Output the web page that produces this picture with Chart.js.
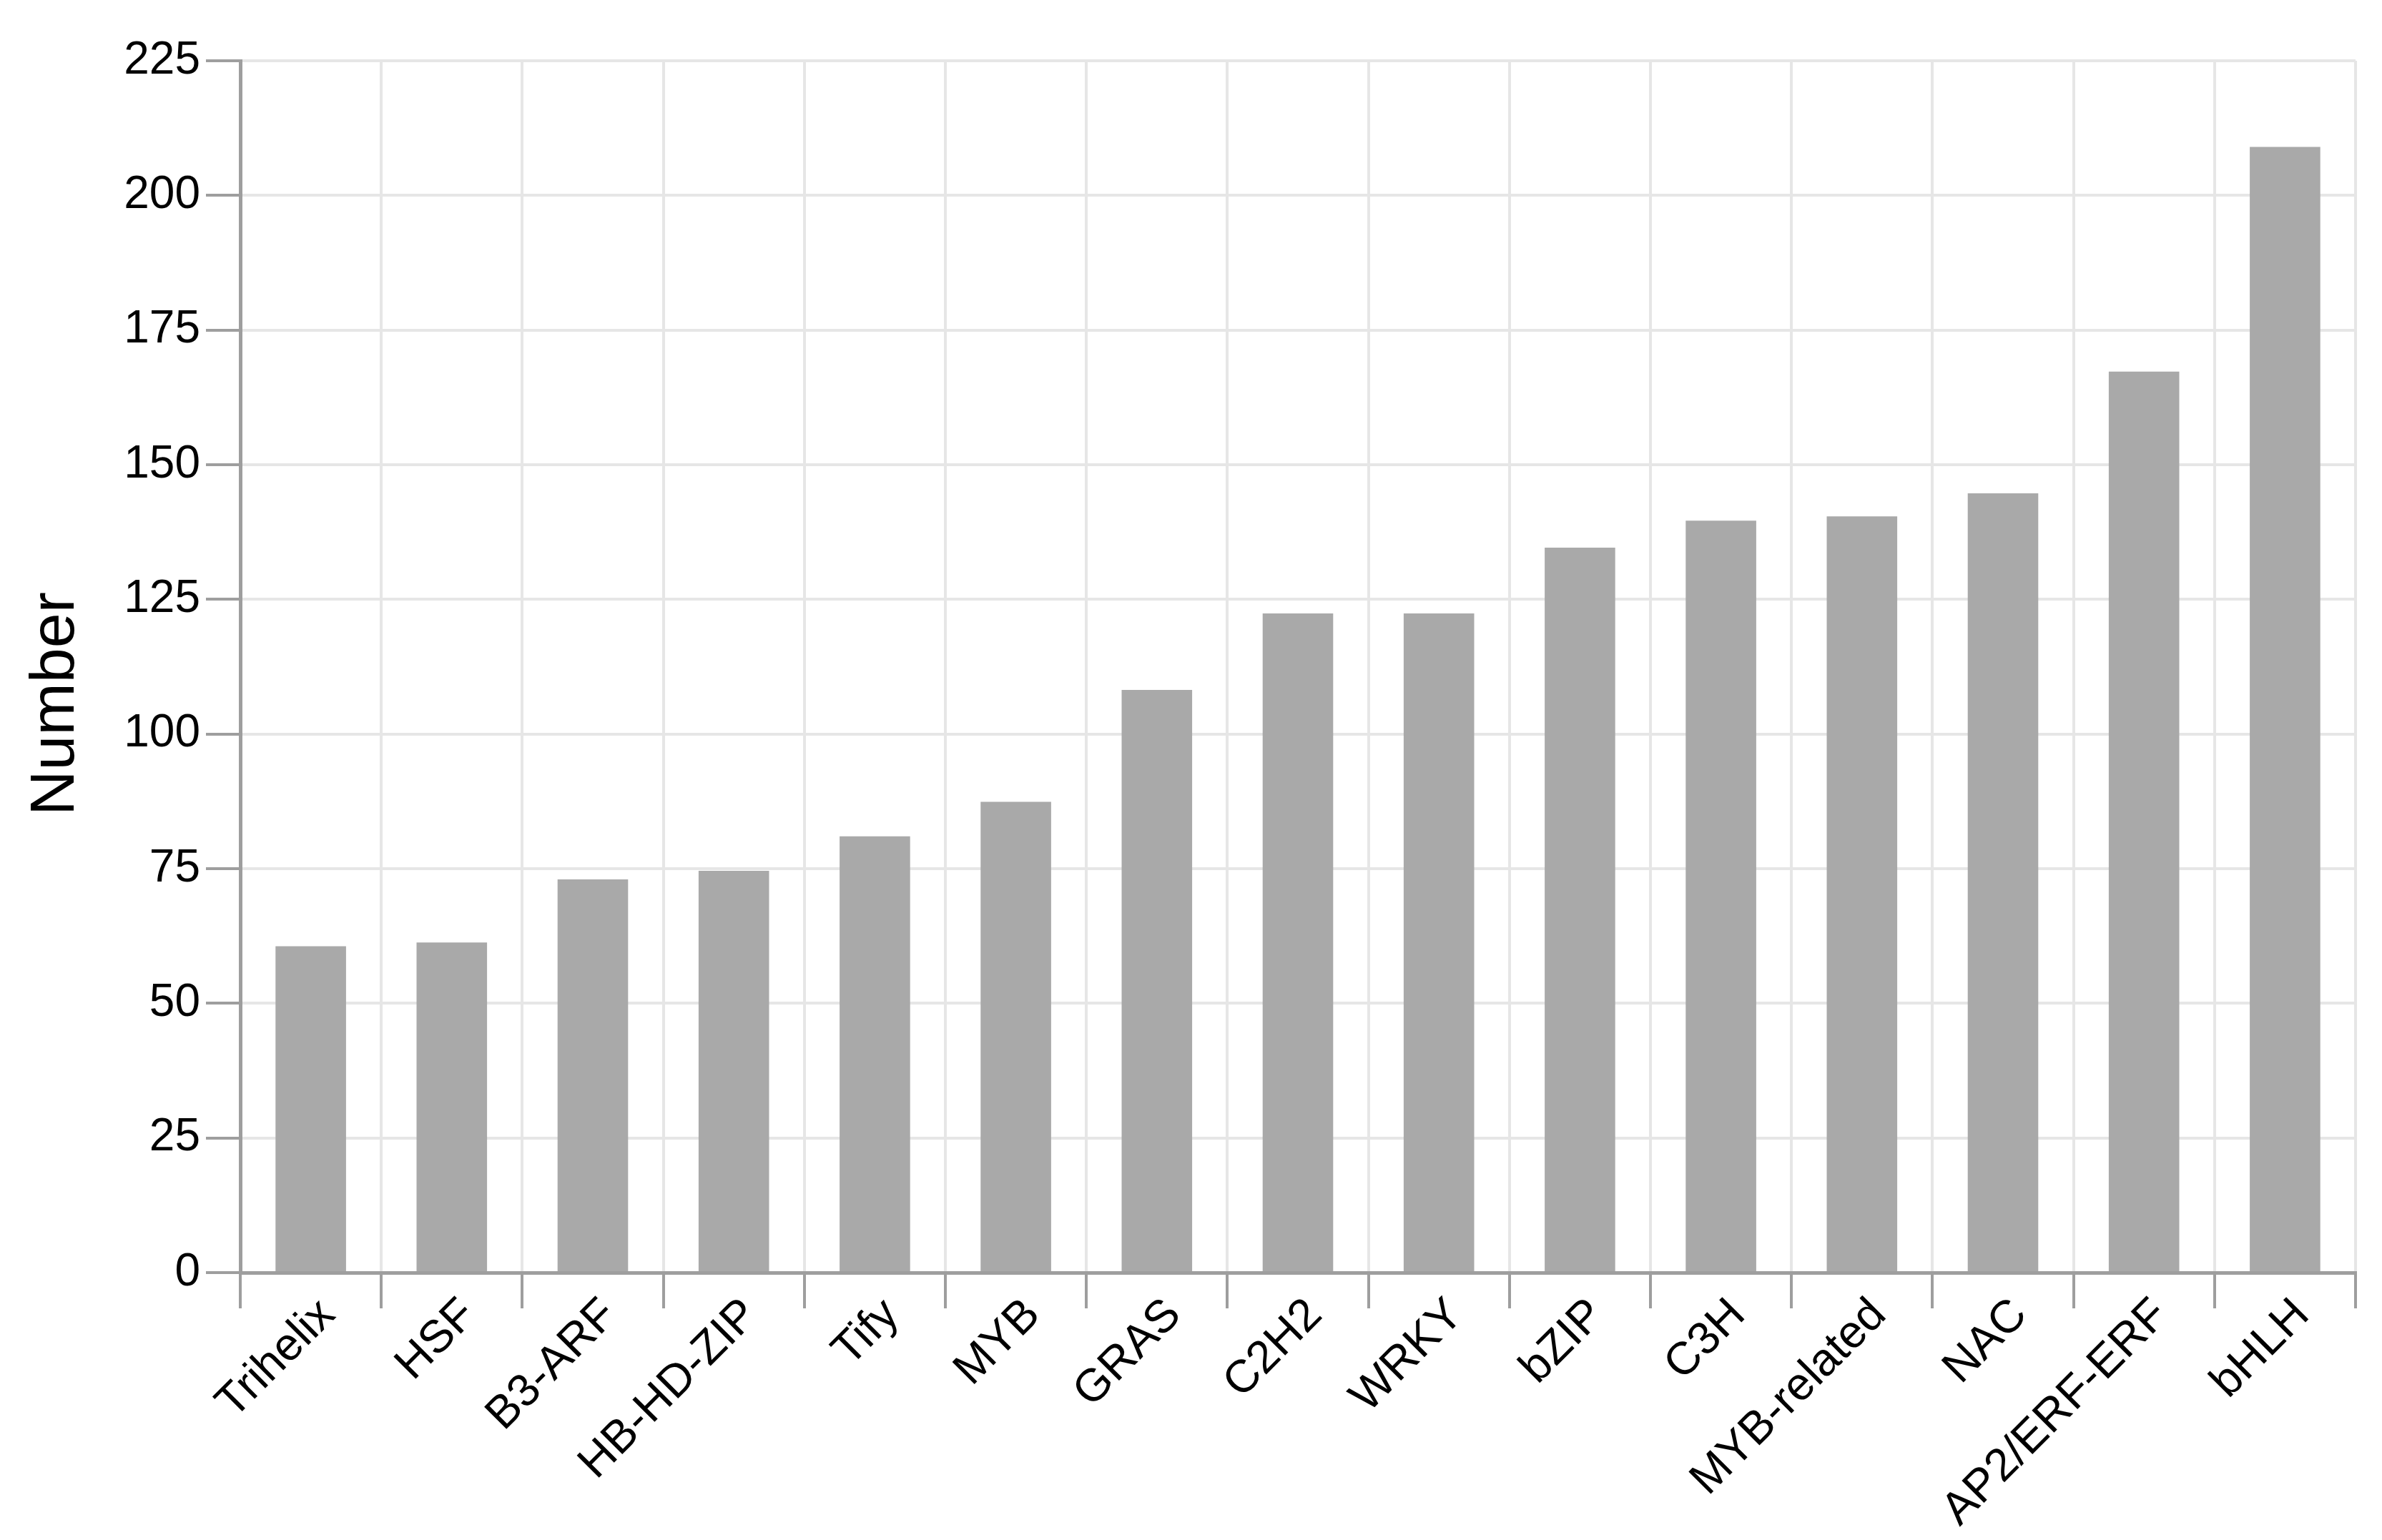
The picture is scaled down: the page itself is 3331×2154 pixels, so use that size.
<!DOCTYPE html>
<html>
<head>
<meta charset="utf-8">
<script src="https://cdn.jsdelivr.net/npm/chart.js@4.4.0/dist/chart.umd.min.js"></script>
<style>
    html, body { margin: 0; padding: 0; background: #ffffff; }
    #wrap { width: 3331px; height: 2154px; }
</style>
</head>
<body>
<div id="wrap"><canvas id="tfChart" width="3331" height="2154"></canvas></div>
<script>
// TF family sizes
const families = ['Trihelix', 'HSF', 'B3-ARF', 'HB-HD-ZIP', 'Tify', 'MYB', 'GRAS', 'C2H2',
    'WRKY', 'bZIP', 'C3H', 'MYB-related', 'NAC', 'AP2/ERF-ERF', 'bHLH'];
const counts = [60.6, 61.3, 73, 74.6, 81, 87.4, 108.2, 122.4, 122.4, 134.6, 139.6, 140.4, 144.7, 167.3, 209];
const yTicks = [0, 25, 50, 75, 100, 125, 150, 175, 200, 225];

const axisGray = '#9e9e9e';
const gridGray = '#e6e6e6';
const fontFamily = '"Liberation Sans", Arial, sans-serif';

// y title drawn by hand so it can sit a bit lower than the axis middle, like the reference
const yTitlePlugin = {
    id: 'yTitle',
    afterDraw(chart) {
        const c = chart.ctx;
        const area = chart.chartArea;
        c.save();
        c.translate(79, (area.top + area.bottom) / 2 + 52);
        c.rotate(-Math.PI / 2);
        c.font = '88px ' + fontFamily;
        c.fillStyle = '#000';
        c.textAlign = 'center';
        c.textBaseline = 'middle';
        c.fillText('Number', 0, 0);
        c.restore();
    }
};

function renderChart() {
    const ctx = document.getElementById('tfChart');
    new Chart(ctx, {
        type: 'bar',
        data: {
            labels: families,
            datasets: [{
                label: 'Number',
                data: counts,
                backgroundColor: '#a9a9a9',
                borderWidth: 0,
                categoryPercentage: 1.0,
                barPercentage: 0.5
            }]
        },
        options: {
            responsive: false,
            animation: false,
            devicePixelRatio: 1,
            layout: { padding: { top: 85, right: 37, bottom: 0, left: 0 } },
            plugins: {
                legend: { display: false },
                tooltip: { enabled: false }
            },
            scales: {
                x: {
                    offset: true,
                    grid: {
                        offset: true,
                        color: gridGray,
                        lineWidth: 4,
                        tickColor: axisGray,
                        tickWidth: 4,
                        tickLength: 50
                    },
                    border: { color: axisGray, width: 5 },
                    ticks: {
                        autoSkip: false,
                        maxRotation: 45,
                        minRotation: 45,
                        padding: -28,
                        labelOffset: 24,
                        color: '#000',
                        font: { family: fontFamily, size: 64 }
                    },
                    afterFit: function(scale) { scale.height = 374; }
                },
                y: {
                    min: 0,
                    max: 225,
                    afterBuildTicks: function(scale) {
                        scale.ticks = yTicks.map(v => ({ value: v }));
                    },
                    grid: {
                        color: gridGray,
                        lineWidth: 4,
                        tickColor: axisGray,
                        tickWidth: 4,
                        tickLength: 48
                    },
                    border: { color: axisGray, width: 5 },
                    ticks: {
                        padding: 8,
                        color: '#000',
                        font: { family: fontFamily, size: 64 }
                    },
                    afterFit: function(scale) { scale.width = 336; }
                }
            }
        },
        plugins: [yTitlePlugin]
    });
}

if (document.readyState === 'loading') {
    document.addEventListener('DOMContentLoaded', renderChart);
} else {
    renderChart();
}
</script>
</body>
</html>
